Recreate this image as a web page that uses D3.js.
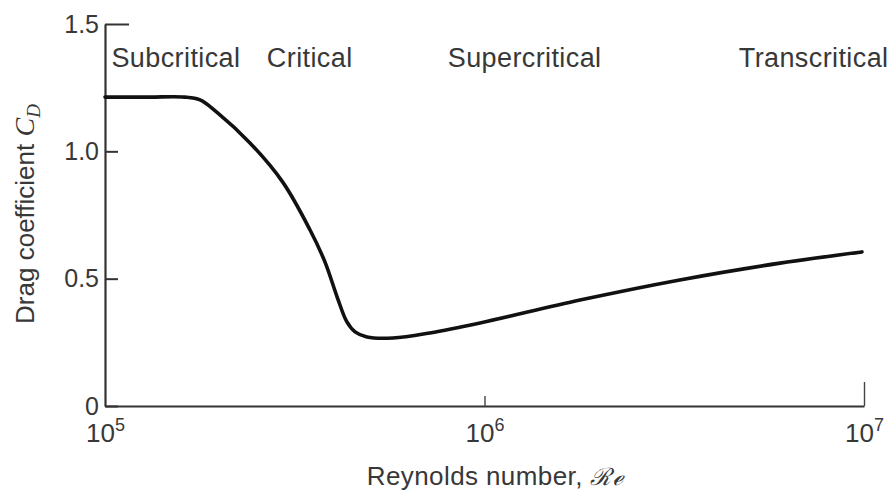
<!DOCTYPE html>
<html>
<head>
<meta charset="utf-8">
<script src="https://cdn.jsdelivr.net/npm/d3@7"></script>
<style>
  body { margin: 0; background: #fff; }
  svg { display: block; }
  text { font-family: "Liberation Sans", Arial, sans-serif; fill: #383838; }
</style>
</head>
<body>
<svg id="chart" width="894" height="491"></svg>
<script>
// Reynolds number / drag coefficient
var reynolds = [1.0e5, 1.31e5, 1.62e5, 1.78e5, 1.97e5, 2.41e5, 2.94e5, 3.47e5, 3.8e5, 4.09e5, 4.34e5, 4.56e5, 4.9e5, 5.74e5, 7.18e5, 9.73e5, 1.785e6, 3.27e6, 6.01e6, 9.88e6];
var dragCoef = [1.213, 1.213, 1.213, 1.202, 1.154, 1.033, 0.879, 0.691, 0.565, 0.428, 0.33, 0.291, 0.271, 0.267, 0.287, 0.326, 0.416, 0.495, 0.561, 0.605];

// axes
var xTicks = [1e5, 1e6, 1e7];
var xExponents = ["5", "6", "7"];
var yTicks = [0, 0.5, 1.0, 1.5];
var yTickLabels = ["0", "0.5", "1.0", "1.5"];

// flow regimes (last one is right-aligned, it runs to the edge)
var regimes = ["Subcritical", "Critical", "Supercritical", "Transcritical"];
var regimeRe = [1.04e5, 2.67e5, 8.0e5, 1.16e7];
var regimeAnchor = ["start", "start", "start", "end"];

var svg = d3.select("#chart");

var x = d3.scaleLog().domain([1e5, 1e7]).range([105, 864]);
var y = d3.scaleLinear().domain([0, 1.5]).range([406, 24]);

// y axis : ticks pointing inwards, labels on the left
var yAxis = svg.append("g")
    .attr("transform", "translate(105,0)")
    .call(d3.axisLeft(y)
        .tickValues(yTicks)
        .tickFormat(function(d, i) { return yTickLabels[i]; })
        .tickSize(-13)
        .tickSizeOuter(0)
        .tickPadding(6));
yAxis.selectAll("line").attr("stroke", "#333").attr("stroke-width", 2)
    .attr("x2", function(d) { return d === 1.5 ? 24 : 13; });
yAxis.selectAll("text").style("font-size", "25px").attr("fill", "#383838");
yAxis.select(".domain").attr("stroke", "#333").attr("stroke-width", 2.2);

// x axis
var xAxis = svg.append("g")
    .attr("transform", "translate(0,406)")
    .call(d3.axisBottom(x)
        .tickValues(xTicks)
        .tickFormat("")
        .tickSize(-10)
        .tickSizeOuter(0));
xAxis.select(".domain").attr("stroke", "#333").attr("stroke-width", 2.2);
xAxis.selectAll("line").attr("stroke", "#444").attr("stroke-width", 1.4)
    .attr("y2", function(d) { return d === 1e7 ? -24 : (d === 1e5 ? 0 : -10); });

var xLab = xAxis.selectAll(".tick").append("text")
    .attr("y", 36)
    .attr("text-anchor", "middle")
    .style("font-size", "26px")
    .attr("fill", "#383838");
xLab.append("tspan").text("10");
xLab.append("tspan")
    .attr("dy", -11)
    .style("font-size", "18px")
    .text(function(d, i) { return xExponents[i]; });

// curve
var line = d3.line()
    .x(function(d) { return x(d[0]); })
    .y(function(d) { return y(d[1]); })
    .curve(d3.curveCatmullRom.alpha(0.5));

svg.append("path")
    .datum(d3.zip(reynolds, dragCoef))
    .attr("d", line)
    .attr("fill", "none")
    .attr("stroke", "#111")
    .attr("stroke-width", 3.6)
    .attr("stroke-linecap", "round");

// regime labels
svg.selectAll(".regime")
    .data(regimes)
    .enter()
    .append("text")
    .attr("class", "regime")
    .attr("x", function(d, i) { return x(regimeRe[i]); })
    .attr("y", 67)
    .attr("text-anchor", function(d, i) { return regimeAnchor[i]; })
    .style("font-size", "27px")
    .style("letter-spacing", "0.4px")
    .text(function(d) { return d; });

// axis titles
var xt = svg.append("text")
    .attr("x", 495)
    .attr("y", 485)
    .attr("text-anchor", "middle")
    .style("font-size", "26px")
    .style("letter-spacing", "0.4px");
xt.append("tspan").text("Reynolds number, ");
xt.append("tspan")
    .style("font-family", "'DejaVu Serif', serif")
    .style("font-style", "italic")
    .style("font-size", "24px")
    .text("\u211B\u212F");

var yt = svg.append("text")
    .attr("transform", "translate(34,214) rotate(-90)")
    .attr("text-anchor", "middle")
    .style("font-size", "26px");
yt.append("tspan").text("Drag coefficient ");
yt.append("tspan")
    .style("font-family", "'Liberation Serif', serif")
    .style("font-style", "italic")
    .style("font-size", "28px")
    .text("C");
yt.append("tspan")
    .attr("dy", 6)
    .style("font-family", "'Liberation Serif', serif")
    .style("font-style", "italic")
    .style("font-size", "19px")
    .text("D");
</script>
</body>
</html>
